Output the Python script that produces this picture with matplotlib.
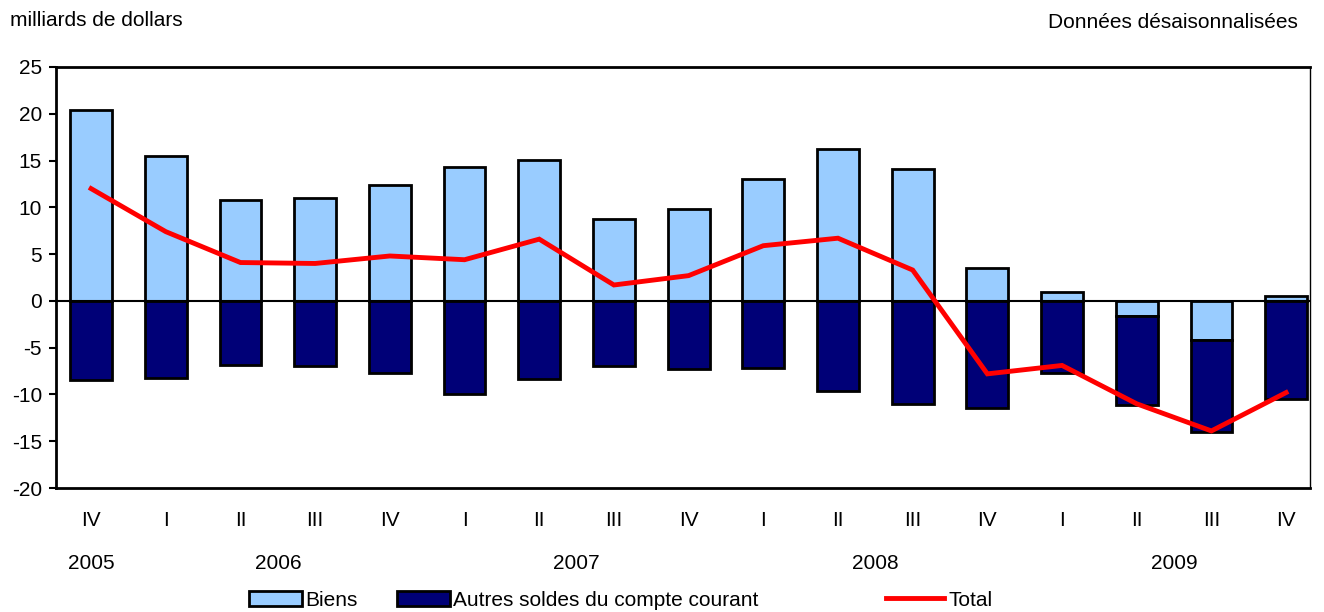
import matplotlib
matplotlib.use("Agg")
import matplotlib.pyplot as plt
from matplotlib.patches import Patch
from matplotlib.lines import Line2D
import numpy as np

plt.rcParams['font.family'] = ['Liberation Sans', 'DejaVu Sans']

quarters = ["IV", "I", "II", "III", "IV", "I", "II", "III", "IV",
            "I", "II", "III", "IV", "I", "II", "III", "IV"]
years = ["2005", "2006", "2007", "2008", "2009"]
year_centers = [0, 2.5, 6.5, 10.5, 14.5]

biens = [20.4, 15.5, 10.8, 11.0, 12.4, 14.3, 15.1, 8.8, 9.8,
         13.0, 16.2, 14.1, 3.5, 0.9, -1.6, -4.2, 0.5]
autres = [-8.5, -8.2, -6.8, -7.0, -7.7, -9.9, -8.4, -7.0, -7.3,
          -7.2, -9.6, -11.0, -11.4, -7.7, -9.5, -9.8, -10.5]
total = [12.0, 7.4, 4.1, 4.0, 4.8, 4.4, 6.6, 1.7, 2.7,
         5.9, 6.7, 3.3, -7.8, -6.9, -11.0, -13.9, -9.8]

light = "#99ccff"
dark = "#000077"
FS = 15

fig = plt.figure(figsize=(13.24, 6.12), dpi=100)
ax = fig.add_axes([56/1324, 1-488/612, (1310-56)/1324, (488-67)/612])

x = np.arange(len(quarters))
b = np.array(biens)
a = np.array(autres)
# goods bar from 0; others stacked below the negative part
autres_bottom = np.where(b < 0, b, 0.0)
ax.bar(x, b, width=0.56, color=light, edgecolor="black", linewidth=2, zorder=2)
ax.bar(x, a, bottom=autres_bottom, width=0.56, color=dark, edgecolor="black", linewidth=2, zorder=2)
ax.axhline(0, color="black", linewidth=1.5, zorder=3)
ax.plot(x, total, color="#ff0000", linewidth=3.5, zorder=4, solid_joinstyle="miter")

ax.set_xlim(-0.47, 16.32)
ax.set_ylim(-20, 25)
ax.set_yticks(range(-20, 30, 5))
ax.set_yticklabels([str(v) for v in range(-20, 30, 5)], fontsize=FS)
ax.tick_params(axis='y', direction='out', length=5, width=1.5, pad=5)
ax.set_xticks([])
for s in ['left', 'bottom', 'top']:
    ax.spines[s].set_linewidth(2)
ax.spines['right'].set_linewidth(1)

for xi, q in zip(x, quarters):
    ax.text(xi, -23.5, q, ha='center', va='center', fontsize=FS, clip_on=False)
for xc, yr in zip(year_centers, years):
    ax.text(xc, -28.1, yr, ha='center', va='center', fontsize=FS, clip_on=False)

fig.text(10/1324, 1-20/612, "milliards de dollars", ha='left', va='center', fontsize=FS)
fig.text(1298/1324, 1-22/612, "Données désaisonnalisées", ha='right', va='center', fontsize=FS)

# legend
h1 = [Patch(facecolor=light, edgecolor="black", linewidth=2, label="Biens"),
      Patch(facecolor=dark, edgecolor="black", linewidth=2, label="Autres soldes du compte courant")]
fig.legend(handles=h1, loc='center left', bbox_to_anchor=(249/1324, 1-600/612), ncol=2,
           frameon=False, fontsize=FS, handlelength=2.55, handleheight=0.75,
           handletextpad=0.15, columnspacing=1.9, borderpad=0, borderaxespad=0)
h2 = [Line2D([0], [0], color="#ff0000", linewidth=3.5, label="Total")]
fig.legend(handles=h2, loc='center left', bbox_to_anchor=(886/1324, 1-600/612),
           frameon=False, fontsize=FS, handlelength=2.8, handletextpad=0.2,
           borderpad=0, borderaxespad=0)

fig.savefig("out.png", dpi=100)
